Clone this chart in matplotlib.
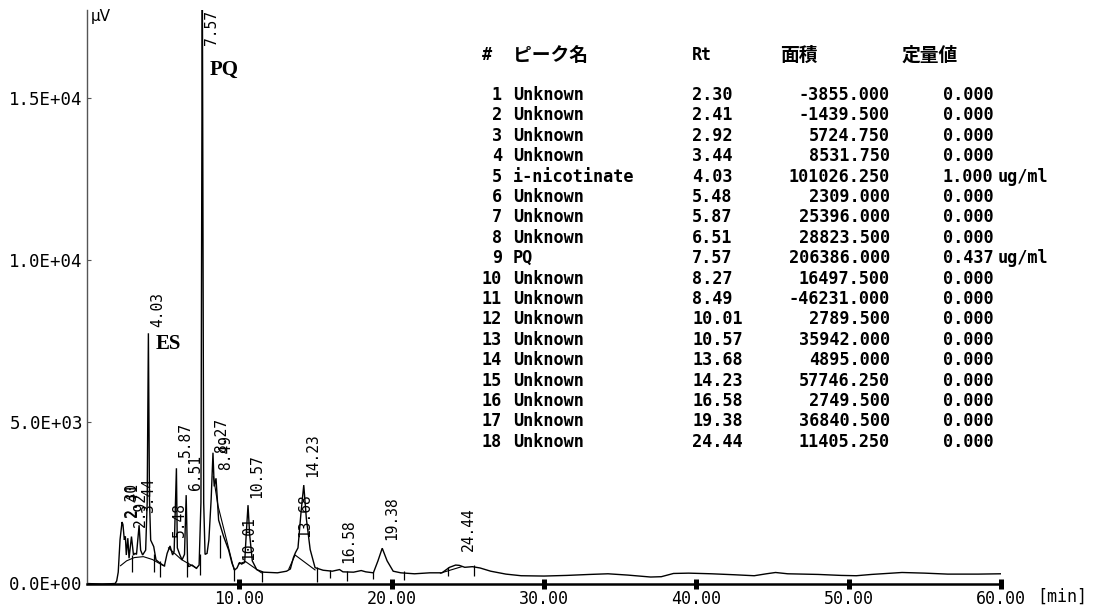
import matplotlib
matplotlib.use("Agg")
import matplotlib.pyplot as plt

# ---------------- data ----------------
# digitised chromatogram trace (time [min], signal [uV])
trace_t = [0.0, 1.0, 1.85, 1.95, 2.05, 2.17, 2.30, 2.36, 2.45, 2.52, 2.58, 2.68, 2.76,
           2.92, 3.05, 3.15, 3.25, 3.42, 3.52, 3.65, 3.85, 3.95, 4.03, 4.10, 4.18,
           4.38, 4.53, 4.82, 5.08, 5.26, 5.45, 5.62, 5.72, 5.87, 5.93, 6.10, 6.24,
           6.40, 6.51, 6.60, 6.66, 6.90, 7.18, 7.36, 7.48, 7.57, 7.66, 7.75, 7.88,
           8.00, 8.15, 8.27, 8.35, 8.47, 8.64, 8.97, 9.30, 9.52, 9.70, 9.85, 10.01,
           10.15, 10.35, 10.45, 10.57, 10.68, 10.85, 11.14, 11.58, 12.5, 13.10,
           13.35, 13.55, 13.68, 13.85, 14.05, 14.23, 14.40, 14.65, 14.97, 15.5,
           16.1, 16.58, 16.8, 17.5, 18.0, 18.3, 18.8, 19.1, 19.38, 19.7, 20.1,
           20.6, 21.5, 22.5, 23.3, 23.8, 24.2, 24.44, 24.8, 25.3, 25.8, 26.5,
           27.5, 28.5, 30.0, 31.5, 33.0, 34.2, 35.5, 37.0, 37.7, 38.5, 39.5,
           41.0, 42.5, 43.8, 44.6, 45.2, 46.0, 48.0, 49.5, 50.5, 51.5, 52.5,
           53.5, 55.0, 56.5, 58.5, 60.0]
trace_v = [0, -20, 0, 80, 350, 1360, 1900, 1820, 1350, 1450, 880, 1400, 780,
           1450, 880, 930, 900, 1800, 1030, 880, 1030, 2500, 7730, 2600, 1340,
           1140, 730, 620, 540, 930, 1160, 880, 1000, 3560, 1100, 880, 730,
           900, 2730, 700, 520, 570, 470, 570, 2500, 19000, 2500, 900, 930,
           1340, 2600, 4040, 3000, 3250, 1960, 1450, 1030, 620, 420, 480, 650,
           600, 650, 1500, 2420, 1500, 700, 430, 350, 330, 380,
           450, 800, 950, 1100, 2200, 3040, 2000, 1050, 490, 410,
           380, 430, 360, 350, 400, 360, 330, 700, 1090, 700, 380,
           330, 300, 330, 330, 500, 570, 560, 500, 520, 480, 380,
           290, 240, 230, 250, 280, 300, 260, 200, 210, 310, 320,
           300, 270, 240, 300, 340, 300, 280, 250, 240, 280, 310,
           340, 320, 290, 290, 300]

# integration baselines
base_segments = [
    ([2.2, 2.6, 3.1, 3.7, 4.3, 4.9, 5.1], [550, 700, 800, 830, 740, 580, 540]),
    ([5.35, 6.2, 7.2], [1100, 740, 470]),
    ([8.3, 8.6, 9.65], [3300, 2400, 430]),
    ([9.95, 10.4, 11.45], [600, 680, 330]),
    ([13.25, 13.66, 14.97], [450, 880, 420]),
    ([23.2, 24.6], [320, 520]),
]

# drop lines (time, top, bottom)
drop_t = [2.96, 4.38, 4.82, 6.57, 7.44, 8.75, 9.63, 11.49, 15.1, 15.97, 17.07, 18.8, 20.8, 23.7, 25.4]
drop_top = [880, 900, 700, 650, 900, 1500, 450, 380, 520, 420, 400, 360, 380, 520, 580]
drop_bot = [350, 350, 200, 200, 250, 800, 80, 40, 60, 180, 80, 150, 100, 220, 230]

# peak table
peak_no = list(range(1, 19))
peak_name = ["Unknown", "Unknown", "Unknown", "Unknown", "i-nicotinate", "Unknown",
             "Unknown", "Unknown", "PQ", "Unknown", "Unknown", "Unknown", "Unknown",
             "Unknown", "Unknown", "Unknown", "Unknown", "Unknown"]
peak_rt = [2.30, 2.41, 2.92, 3.44, 4.03, 5.48, 5.87, 6.51, 7.57, 8.27, 8.49, 10.01,
           10.57, 13.68, 14.23, 16.58, 19.38, 24.44]
peak_area = [-3855.000, -1439.500, 5724.750, 8531.750, 101026.250, 2309.000, 25396.000,
             28823.500, 206386.000, 16497.500, -46231.000, 2789.500, 35942.000,
             4895.000, 57746.250, 2749.500, 36840.500, 11405.250]
peak_conc = [0.000, 0.000, 0.000, 0.000, 1.000, 0.000, 0.000, 0.000, 0.437, 0.000,
             0.000, 0.000, 0.000, 0.000, 0.000, 0.000, 0.000, 0.000]
peak_unit = ["", "", "", "", "ug/ml", "", "", "", "ug/ml", "", "", "", "", "", "", "", "", ""]
# height at which each retention-time label starts
label_v = [2054, 2054, 1745, 2178, 7924, 1436, 3908, 2888, 16636, 4032, 3507, 726,
           2641, 1436, 3290, 633, 1344, 1000]

header = ["#", "ピーク名", "Rt", "面積", "定量値"]
xticks = [10, 20, 30, 40, 50, 60]
xtick_labels = ["10.00", "20.00", "30.00", "40.00", "50.00", "60.00"]
yticks = [0, 5000, 10000, 15000]
ytick_labels = ["0.0E+00", "5.0E+03", "1.0E+04", "1.5E+04"]

# ---------------- figure ----------------
W, H = 1100, 610
fig = plt.figure(figsize=(W / 100, H / 100), dpi=100)
fig.patch.set_facecolor("white")

def fx(px):
    return px / W

def fy(py):
    return 1 - py / H

ax = fig.add_axes([fx(87), 26.5 / H, (1001 - 87) / W, (583.5 - 10) / H])
ax.set_xlim(0, 60)
ax.set_ylim(0, 17717)

mono = "DejaVu Sans Mono"

ax.plot(trace_t, trace_v, color="black", lw=1.0, solid_joinstyle="miter")
for bt, bv in base_segments:
    ax.plot(bt, bv, color="black", lw=0.8)
ax.vlines(drop_t, drop_bot, drop_top, color="black", lw=0.9)

for rt, lv in zip(peak_rt, label_v):
    ax.annotate(f"{rt:.2f}", xy=(rt, lv), xytext=(6.5, 0), textcoords="offset points",
                rotation=90, ha="center", va="bottom", fontsize=10.5,
                family=mono, color="black", annotation_clip=False)

# spines and ticks
for s in ["top", "right"]:
    ax.spines[s].set_visible(False)
ax.spines["left"].set_color("#555555")
ax.spines["left"].set_linewidth(1.0)
ax.spines["bottom"].set_color("black")
ax.spines["bottom"].set_linewidth(1.8)

ax.set_xticks(xticks)
ax.set_xticklabels(xtick_labels, family=mono, fontsize=12)
ax.tick_params(axis="x", direction="inout", length=7.5, width=3.6, pad=1, color="black")
ax.set_yticks(yticks)
ax.set_yticklabels(ytick_labels, family=mono, fontsize=12.5)
ax.tick_params(axis="y", direction="in", length=3, width=0.8, pad=3, color="#555555")

fig.text(fx(1037), fy(597), "[min]", family=mono, fontsize=12, ha="left", va="center")
fig.text(fx(91), fy(17), "μV", family="DejaVu Sans", fontsize=11, ha="left", va="center")

# compound annotations
fig.text(fx(224), fy(70), "PQ", family="Liberation Serif", fontweight="bold", fontsize=15,
         ha="center", va="center")
fig.text(fx(168), fy(344), "ES", family="Liberation Serif", fontweight="bold", fontsize=15,
         ha="center", va="center")

# ---------------- peak table ----------------
cjk = ["Noto Sans CJK JP", "DejaVu Sans"]
tw = "semibold"
hy = 55
fig.text(fx(487), fy(hy), header[0], family=mono, fontsize=12, fontweight="bold",
         ha="center", va="center")
fig.text(fx(513), fy(hy), header[1], family=cjk, fontsize=13.5, fontweight="bold",
         ha="left", va="center")
fig.text(fx(692), fy(hy), header[2], family=mono, fontsize=12, fontweight=tw,
         ha="left", va="center")
fig.text(fx(780), fy(hy), header[3], family=cjk, fontsize=13.5, fontweight="bold",
         ha="left", va="center")
fig.text(fx(902), fy(hy), header[4], family=cjk, fontsize=13.5, fontweight="bold",
         ha="left", va="center")

row0, dy = 95, 20.4
tfs = 12.2
for i, (n, name, rt, area, conc, unit) in enumerate(
        zip(peak_no, peak_name, peak_rt, peak_area, peak_conc, peak_unit)):
    y = fy(row0 + i * dy)
    kw = dict(family=mono, fontsize=tfs, fontweight=tw, va="center")
    fig.text(fx(502), y, str(n), ha="right", **kw)
    fig.text(fx(513), y, name, ha="left", **kw)
    fig.text(fx(692), y, f"{rt:.2f}", ha="left", **kw)
    fig.text(fx(890), y, f"{area:.3f}", ha="right", **kw)
    fig.text(fx(943), y, f"{conc:.3f}", ha="left", **kw)
    if unit:
        fig.text(fx(998), y, unit, ha="left", **kw)

fig.savefig("out.png", dpi=100, facecolor="white")
